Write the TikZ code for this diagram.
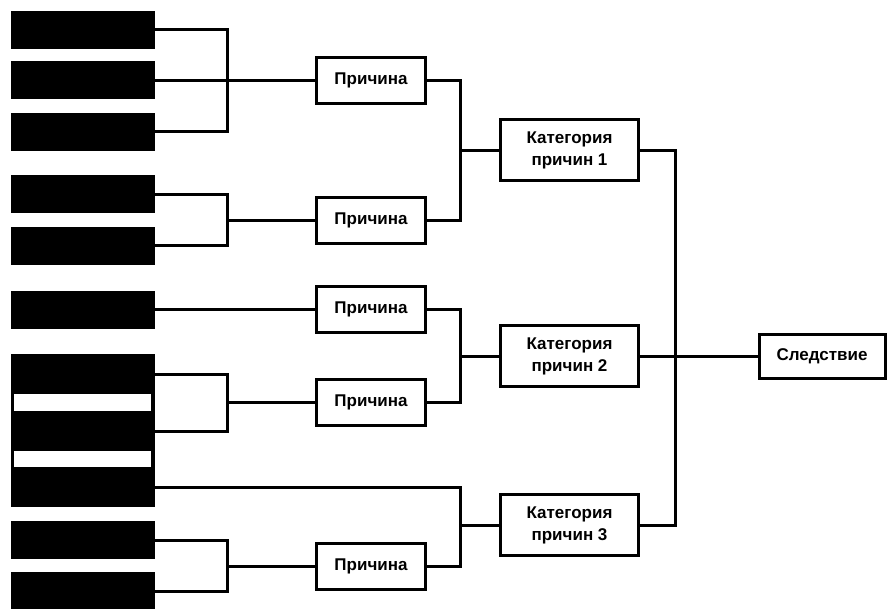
\documentclass[tikz,border=0pt]{standalone}
\usepackage{fontspec}
\setmainfont{Liberation Sans}
\begin{document}
\begin{tikzpicture}[x=1pt, y=-1pt,
    blk/.style={fill=black, minimum width=144pt, minimum height=38pt, inner sep=0pt},
    box/.style={draw, line width=3pt, inner sep=0pt, align=center,
                font=\fontsize{17}{22}\selectfont\bfseries},
    cause/.style={box, minimum width=109pt, minimum height=46pt},
    categ/.style={box, minimum width=138pt, minimum height=61pt},
    link/.style={line width=3pt}]
    \useasboundingbox (0,0) rectangle (889,608);
    % left column
    \node[blk] (b1) at (83,29.5) {};
    \node[blk] (b2) at (83,80) {};
    \node[blk] (b3) at (83,131.5) {};
    \node[blk] (b4) at (83,194) {};
    \node[blk] (b5) at (83,245.5) {};
    \node[blk] (b6) at (83,309.5) {};
    \fill (11,354) rectangle (155,507);
    \fill[white] (14,394) rectangle (151,411);
    \fill[white] (14,451) rectangle (151,467);
    \node[blk, minimum height=40pt] (b7) at (83,374) {};
    \node[blk, minimum height=40pt] (b8) at (83,431) {};
    \node[blk, minimum height=40pt] (b9) at (83,487) {};
    \node[blk] (b10) at (83,540) {};
    \node[blk] (b11) at (83,591) {};
    % causes
    \node[cause] (c1) at (371,80) {Причина};
    \node[cause] (c2) at (371,220) {Причина};
    \node[cause] (c3) at (371,309.5) {Причина};
    \node[cause] (c4) at (371,402.5) {Причина};
    \node[cause] (c5) at (371,566) {Причина};
    % categories and effect
    \node[categ] (k1) at (569.5,150) {Категория\\причин 1};
    \node[categ] (k2) at (569.5,356) {Категория\\причин 2};
    \node[categ] (k3) at (569.5,525) {Категория\\причин 3};
    \node[box, minimum width=126pt, minimum height=44pt] (eff) at (822,356) {Следствие};
    % junctions
    \coordinate (j1) at (227,80);
    \coordinate (j2) at (227,220);
    \coordinate (j3) at (227,402.5);
    \coordinate (j4) at (227,566);
    \coordinate (m1) at (460,150);
    \coordinate (m2) at (460,356);
    \coordinate (m3) at (460,525);
    \coordinate (r1) at (675,356);
    % connectors
    \draw[link] (b1.east) -| (j1) |- (b3.east);
    \draw[link] (b2.east) -- (c1.west);
    \draw[link] (b4.east) -| (j2) |- (b5.east);
    \draw[link] (j2) -- (c2.west);
    \draw[link] (b6.east) -- (c3.west);
    \draw[link] (b7.east) -| (j3) |- (b8.east);
    \draw[link] (j3) -- (c4.west);
    \draw[link] (b10.east) -| (j4) |- (b11.east);
    \draw[link] (j4) -- (c5.west);
    \draw[link] (c1.east) -| (m1) |- (c2.east);
    \draw[link] (m1) -- (k1.west);
    \draw[link] (c3.east) -| (m2) |- (c4.east);
    \draw[link] (m2) -- (k2.west);
    \draw[link] (b9.east) -| (m3) |- (c5.east);
    \draw[link] (m3) -- (k3.west);
    \draw[link] (k1.east) -| (r1) |- (k3.east);
    \draw[link] (k2.east) -- (eff.west);
\end{tikzpicture}
\end{document}
